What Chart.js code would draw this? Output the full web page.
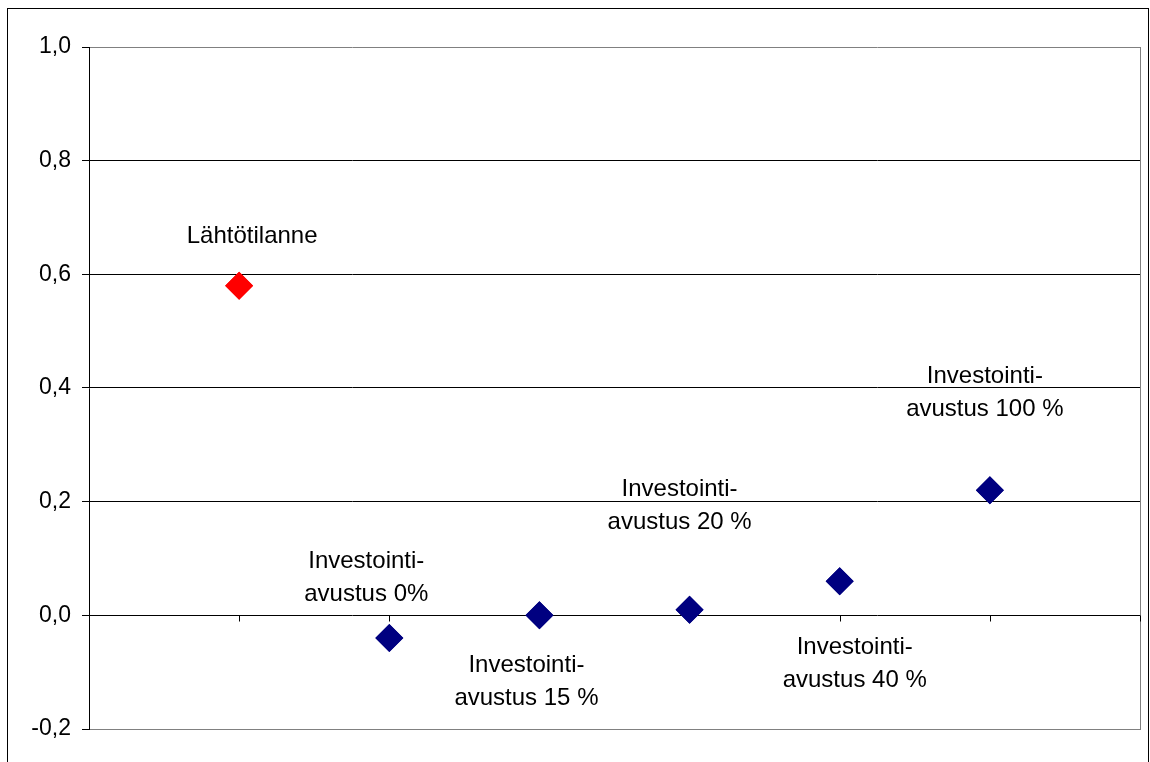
<!DOCTYPE html>
<html lang="fi">
<head>
  <meta charset="UTF-8" />
  <title>Investointiavustus</title>
  <script src="https://cdn.jsdelivr.net/npm/chart.js"></script>
  <style>
    body {
      margin: 0;
      padding: 0;
      background: #fff;
    }
    #wrap {
      width: 1150px;
      height: 762px;
    }
  </style>
</head>
<body>
  <div id="wrap">
    <canvas id="chart" width="1150" height="762"></canvas>
  </div>

  <script>
    // data
    const categories = ['Lähtötilanne', 'Investointi-\navustus 0%', 'Investointi-\navustus 15 %',
                        'Investointi-\navustus 20 %', 'Investointi-\navustus 40 %', 'Investointi-\navustus 100 %'];
    const xPositions = [1, 2, 3, 4, 5, 6];
    const values = [0.58, -0.04, 0.0, 0.01, 0.06, 0.22];
    const pointColors = ['#ff0000', '#000080', '#000080', '#000080', '#000080', '#000080'];
    const yTicks = [-0.2, 0, 0.2, 0.4, 0.6, 0.8, 1.0];

    // where each label sits relative to its point (px): dx, dy of the first line
    const labelOffsets = [[13, -49], [-23, -77], [-13, 50], [-10, -120], [15, 66], [-5, -114]];

    const font = "'Liberation Sans', Arial, sans-serif";

    const decorations = {
      id: 'decorations',
      afterDraw(chart) {
        const { ctx, chartArea } = chart;
        const xs = chart.scales.x, ys = chart.scales.y;
        ctx.save();
        // outer frame
        ctx.strokeStyle = '#000';
        ctx.lineWidth = 1;
        ctx.strokeRect(7.5, 8.5, 1141, 770);
        // right border of plot
        ctx.strokeStyle = '#808080';
        ctx.beginPath();
        ctx.moveTo(Math.round(chartArea.right) + 0.5, chartArea.top);
        ctx.lineTo(Math.round(chartArea.right) + 0.5, chartArea.bottom);
        ctx.stroke();
        // category ticks on the zero line
        const y0 = Math.round(ys.getPixelForValue(0)) + 0.5;
        ctx.strokeStyle = '#000';
        ctx.beginPath();
        for (let i = 1; i <= 7; i++) {
          const x = Math.round(xs.getPixelForValue(i)) + 0.5;
          ctx.moveTo(x, y0);
          ctx.lineTo(x, y0 + 6);
        }
        ctx.stroke();
        ctx.restore();

        // redraw points on top of the grid
        chart.getDatasetMeta(0).controller.draw();

        // labels
        ctx.save();
        ctx.fillStyle = '#000';
        ctx.font = '24px ' + font;
        ctx.textAlign = 'center';
        ctx.textBaseline = 'middle';
        categories.forEach((c, i) => {
          const px = xs.getPixelForValue(xPositions[i]);
          const py = ys.getPixelForValue(values[i]);
          const [dx, dy] = labelOffsets[i];
          c.split('\n').forEach((line, j) => {
            ctx.fillText(line, px + dx, py + dy + j * 33);
          });
        });
        ctx.restore();
      }
    };

    new Chart(document.getElementById('chart'), {
      type: 'scatter',
      data: {
        datasets: [{
          data: xPositions.map((x, i) => ({ x: x, y: values[i] })),
          pointStyle: 'rectRot',
          pointRadius: 14,
          pointHoverRadius: 14,
          pointBackgroundColor: pointColors,
          pointBorderColor: pointColors,
          pointBorderWidth: 0
        }]
      },
      plugins: [decorations],
      options: {
        responsive: false,
        animation: false,
        events: [],
        layout: { autoPadding: false, padding: { left: 0, right: 10, top: 47, bottom: 33 } },
        plugins: {
          legend: { display: false },
          tooltip: { enabled: false }
        },
        scales: {
          x: {
            type: 'linear',
            min: 0,
            max: 7,
            ticks: { display: false },
            grid: { display: false },
            border: { color: '#808080', width: 1 },
            afterFit: s => { s.height = 0; }
          },
          y: {
            min: -0.2,
            max: 1.0,
            afterBuildTicks: s => { s.ticks = yTicks.map(v => ({ value: v })); },
            afterFit: s => { s.width = 89; },
            ticks: {
              color: '#000',
              padding: 11,
              font: { family: font, size: 23 },
              callback: v => v.toFixed(1).replace('.', ',')
            },
            grid: {
              color: c => (c.tick && (c.tick.value === 1 || c.tick.value === -0.2)) ? '#808080' : '#000',
              tickColor: '#000',
              tickLength: 7,
              lineWidth: 1
            },
            border: { color: '#000', width: 1 }
          }
        }
      }
    });
  </script>
</body>
</html>
